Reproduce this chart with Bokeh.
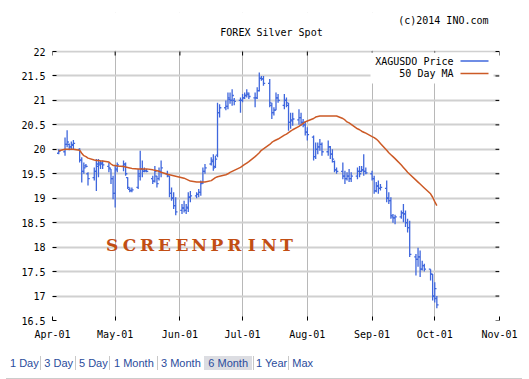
import pandas as pd
from datetime import datetime
from bokeh.plotting import figure
from bokeh.layouts import column
from bokeh.models import (Range1d, FixedTicker, DatetimeTickFormatter, NumeralTickFormatter,
                          Label, BoxAnnotation, ColumnDataSource, Div)
from bokeh.embed import file_html
from bokeh.resources import INLINE

# ---------------- data ----------------
dates = pd.bdate_range("2014-04-04", "2014-10-02")

open_ = [19.92,
         19.95, 20.10, 20.10, 20.05, 20.08,
         20.00, 19.78, 19.55, 19.66, 19.50,
         19.42, 19.55, 19.65, 19.68, 19.72,
         19.65, 19.60, 19.40, 19.10, 19.58,
         19.65, 19.68, 19.42, 19.18, 19.16,
         19.22, 19.45, 19.60, 19.58, 19.56,
         19.40, 19.35, 19.45, 19.40, 19.55,
         19.50, 19.45, 19.10, 19.00, 18.85,
         18.75, 18.80, 18.75, 18.80, 19.02,
         19.05, 19.08, 19.12, 19.32, 19.55,
         19.70, 19.75, 19.65, 19.88, 20.75,
         20.85, 20.88, 21.02, 21.00, 21.00,
         21.00, 21.00, 21.05, 21.10, 21.12,
         21.05, 21.05, 21.20, 21.45, 21.44,
         21.35, 20.90, 20.75, 20.80, 21.05,
         20.90, 21.00, 20.90, 20.55, 20.58,
         20.60, 20.65, 20.55, 20.50, 20.35,
         20.25, 19.85, 20.00, 20.05, 20.10,
         19.95, 20.05, 19.90, 19.75, 19.58,
         19.55, 19.45, 19.40, 19.45, 19.40,
         19.45, 19.55, 19.55, 19.58, 19.55,
         19.50, 19.40, 19.15, 19.25, 19.20,
         19.20, 19.00, 18.95, 18.62, 18.60,
         18.62, 18.70, 18.68, 18.50, 18.40,
         17.80, 17.75, 17.80, 17.55, 17.62,
         17.55, 17.45, 17.00, 16.95]

high = [20.00,
        20.24, 20.39, 20.12, 20.16, 20.19,
        20.02, 19.84, 19.73, 19.70, 19.53,
        19.63, 19.80, 19.80, 19.77, 19.77,
        19.73, 19.60, 19.46, 19.67, 19.73,
        19.77, 19.73, 19.43, 19.22, 19.22,
        19.60, 19.97, 19.77, 19.63, 19.60,
        19.46, 19.66, 19.46, 19.63, 19.77,
        19.56, 19.46, 19.22, 19.12, 19.02,
        18.88, 18.95, 18.88, 19.12, 19.15,
        19.12, 19.19, 19.36, 19.63, 19.70,
        19.84, 19.90, 19.87, 20.95, 20.92,
        21.00, 21.16, 21.16, 21.23, 21.05,
        21.06, 21.13, 21.16, 21.23, 21.16,
        21.16, 21.27, 21.57, 21.50, 21.50,
        21.44, 20.95, 20.86, 21.16, 21.13,
        21.13, 21.06, 20.95, 20.75, 20.75,
        20.82, 20.75, 20.62, 20.58, 20.45,
        20.28, 20.14, 20.14, 20.21, 20.14,
        20.18, 20.07, 20.00, 19.77, 19.63,
        19.73, 19.56, 19.53, 19.60, 19.53,
        19.63, 19.66, 19.66, 19.90, 19.63,
        19.56, 19.46, 19.33, 19.36, 19.29,
        19.36, 19.12, 19.02, 18.68, 18.66,
        18.75, 18.88, 18.75, 18.58, 18.54,
        17.86, 17.99, 17.93, 17.72, 17.66,
        17.55, 17.45, 17.28, 17.00]

low = [19.90,
       19.87, 20.04, 19.98, 20.00, 20.00,
       19.73, 19.32, 19.50, 19.63, 19.26,
       19.36, 19.15, 19.43, 19.60, 19.60,
       19.53, 19.29, 18.98, 18.81, 19.53,
       19.55, 19.46, 19.19, 19.12, 19.12,
       19.19, 19.36, 19.43, 19.53, 19.53,
       19.29, 19.32, 19.22, 19.36, 19.43,
       19.43, 19.02, 18.95, 18.78, 18.65,
       18.68, 18.71, 18.68, 18.72, 18.92,
       19.00, 19.02, 19.05, 19.29, 19.50,
       19.67, 19.56, 19.62, 19.84, 20.65,
       20.80, 20.82, 20.93, 20.89, 20.90,
       20.75, 20.96, 21.03, 21.06, 21.03,
       20.86, 21.03, 21.18, 21.40, 21.30,
       20.86, 20.62, 20.69, 20.80, 20.95,
       20.82, 20.86, 20.38, 20.42, 20.48,
       20.50, 20.48, 20.45, 20.28, 20.18,
       19.77, 19.80, 19.90, 19.97, 19.87,
       19.87, 19.80, 19.73, 19.53, 19.50,
       19.39, 19.29, 19.36, 19.33, 19.33,
       19.39, 19.43, 19.53, 19.46, 19.49,
       19.36, 19.09, 19.12, 19.09, 19.16,
       18.92, 18.88, 18.58, 18.50, 18.47,
       18.58, 18.51, 18.41, 18.30, 17.80,
       17.42, 17.60, 17.39, 17.52, 17.50,
       17.32, 16.91, 16.87, 16.75]

close = [19.96,
         20.10, 20.15, 20.05, 20.10, 20.12,
         19.78, 19.55, 19.62, 19.65, 19.40,
         19.55, 19.70, 19.72, 19.70, 19.68,
         19.62, 19.40, 19.10, 19.60, 19.68,
         19.70, 19.50, 19.22, 19.15, 19.17,
         19.50, 19.60, 19.55, 19.56, 19.55,
         19.35, 19.55, 19.30, 19.55, 19.62,
         19.48, 19.10, 19.00, 18.85, 18.72,
         18.80, 18.75, 18.82, 19.02, 19.05,
         19.08, 19.12, 19.30, 19.55, 19.62,
         19.78, 19.62, 19.80, 20.75, 20.85,
         20.88, 21.05, 21.00, 21.10, 20.98,
         21.00, 21.05, 21.10, 21.15, 21.08,
         21.05, 21.20, 21.45, 21.44, 21.35,
         20.95, 20.75, 20.80, 21.05, 21.00,
         21.00, 20.95, 20.55, 20.60, 20.62,
         20.65, 20.55, 20.50, 20.35, 20.30,
         19.85, 20.00, 20.05, 20.10, 19.95,
         20.05, 19.90, 19.80, 19.58, 19.55,
         19.45, 19.40, 19.45, 19.40, 19.45,
         19.55, 19.50, 19.58, 19.55, 19.52,
         19.40, 19.15, 19.25, 19.20, 19.22,
         19.00, 18.95, 18.65, 18.60, 18.62,
         18.70, 18.68, 18.50, 18.40, 17.85,
         17.75, 17.80, 17.55, 17.62, 17.55,
         17.45, 17.00, 17.15, 16.82]

ma50 = [19.97,
        20.00, 20.00, 20.00, 20.00, 20.00,
        19.98, 19.92, 19.87, 19.85, 19.82,
        19.78, 19.77, 19.77, 19.76, 19.76,
        19.74, 19.70, 19.67, 19.67, 19.66,
        19.65, 19.64, 19.63, 19.62, 19.61,
        19.60, 19.60, 19.60, 19.60, 19.60,
        19.58, 19.57, 19.56, 19.55, 19.53,
        19.49, 19.48, 19.47, 19.46, 19.45,
        19.42, 19.41, 19.39, 19.37, 19.35,
        19.33, 19.33, 19.33, 19.33, 19.33,
        19.36, 19.39, 19.42, 19.44, 19.45,
        19.48, 19.50, 19.53, 19.55, 19.57,
        19.63, 19.66, 19.69, 19.72, 19.75,
        19.85, 19.89, 19.93, 19.98, 20.01,
        20.10, 20.14, 20.17, 20.19, 20.21,
        20.29, 20.31, 20.34, 20.37, 20.40,
        20.47, 20.50, 20.53, 20.56, 20.58,
        20.63, 20.66, 20.67, 20.68, 20.68,
        20.68, 20.68, 20.68, 20.68, 20.68,
        20.63, 20.60, 20.56, 20.54, 20.51,
        20.42, 20.40, 20.37, 20.35, 20.33,
        20.26, 20.24, 20.21, 20.17, 20.12,
        19.98, 19.93, 19.89, 19.85, 19.81,
        19.68, 19.63, 19.58, 19.53, 19.49,
        19.37, 19.33, 19.29, 19.25, 19.21,
        19.09, 19.02, 18.93, 18.85]

month_ticks = ["2014-04-01", "2014-05-01", "2014-06-01", "2014-07-01",
               "2014-08-01", "2014-09-01", "2014-10-01", "2014-11-01"]
y_ticks = [16.5, 17, 17.5, 18, 18.5, 19, 19.5, 20, 20.5, 21, 21.5, 22]

series_names = ["XAGUSDO Price", "50 Day MA"]
title_text = "FOREX Silver Spot"
copyright_text = "(c)2014 INO.com"
watermark = "SCREENPRINT"
buttons = ["1 Day", "3 Day", "5 Day", "1 Month", "3 Month", "6 Month", "1 Year", "Max"]

# ---------------- styling / layout ----------------
BLUE = "#3f67dd"
ORANGE = "#cc5a26"
MONO = "DejaVu Sans Mono"

W, H = 529, 345
FL, FW = 52, 447                 # chart area left / width (page px)
CT, CB = 51, 320                 # chart area top / bottom (page px) where y = 22 / 16.5
FT = 12                          # frame top: extended upward so the title texts sit inside it
FH = CB - FT
X0, X1 = datetime(2014, 4, 1), datetime(2014, 11, 1)
Y0, Y1 = 16.5, 22.0
px_per_unit = (CB - CT) / (Y1 - Y0)
Y_TOP = Y1 + (CT - FT) / px_per_unit

tick_ms = [pd.Timestamp(t).value // 10**6 for t in month_ticks]

src = ColumnDataSource(dict(
    x=dates, o=open_, h=high, l=low, c=close, ma=ma50,
    xl=dates - pd.Timedelta(hours=20), xr=dates + pd.Timedelta(hours=20),
))

p = figure(width=W, height=H, output_backend="svg", toolbar_location=None, title=None,
           x_axis_type="datetime", x_range=Range1d(X0, X1), y_range=Range1d(Y0, Y_TOP),
           min_border_left=FL, min_border_right=W - FL - FW,
           min_border_top=FT, min_border_bottom=H - FT - FH,
           background_fill_color="white", border_fill_color="white")
p.outline_line_color = None

xt = FixedTicker(ticks=tick_ms)
yt = FixedTicker(ticks=y_ticks)
fmt = DatetimeTickFormatter(days="%b-%d", months="%b-%d", years="%b-%d")

for ax in [p.xaxis[0], p.yaxis[0]]:
    ax.axis_line_color = None
    ax.major_tick_in = 4
    ax.major_tick_out = 0
    ax.major_tick_line_color = "black"
    ax.minor_tick_line_color = None
    ax.major_label_text_font = MONO
    ax.major_label_text_font_size = "10px"
    ax.major_label_text_color = "black"
p.xaxis[0].ticker = xt
p.xaxis[0].formatter = fmt
p.xaxis[0].major_label_standoff = 8
p.yaxis[0].ticker = yt
p.yaxis[0].formatter = NumeralTickFormatter(format="0.[0]")
p.yaxis[0].major_label_standoff = 7

p.xgrid.ticker = xt
p.ygrid.ticker = yt
p.xgrid.grid_line_color = "#b8b8b8"
p.xgrid.grid_line_width = 1
p.ygrid.grid_line_color = "#d0d0d0"
p.ygrid.grid_line_width = 2

# mirrored inside ticks on the top (y = 22) and right edges (4 px long)
days_total = (X1 - X0).days
dx_tick = pd.Timedelta(days=4 * days_total / FW)
dy_tick = 4 / px_per_unit
p.segment(x0=pd.to_datetime(month_ticks), y0=[Y1] * len(month_ticks),
          x1=pd.to_datetime(month_ticks), y1=[Y1 - dy_tick] * len(month_ticks),
          line_color="black", line_width=1)
p.segment(x0=[X1] * len(y_ticks), y0=y_ticks, x1=[X1 - dx_tick] * len(y_ticks), y1=y_ticks,
          line_color="black", line_width=1)

# price bars
p.segment(x0="x", y0="l", x1="x", y1="h", source=src, line_color=BLUE, line_width=1.3)
p.segment(x0="xl", y0="o", x1="x", y1="o", source=src, line_color=BLUE, line_width=1.3)
p.segment(x0="x", y0="c", x1="xr", y1="c", source=src, line_color=BLUE, line_width=1.3)
# moving average
p.line(x="x", y="ma", source=src, line_color=ORANGE, line_width=1.5)


# ---------- decorations (screen units relative to the frame's bottom-left) ----------
def fx(px):
    return px - FL


def fy(py):
    return FT + FH - py


def sbox(l, r, t, b, color):
    return BoxAnnotation(left=fx(l), right=fx(r), bottom=fy(b), top=fy(t),
                         left_units="screen", right_units="screen",
                         bottom_units="screen", top_units="screen",
                         fill_color=color, fill_alpha=1, line_color=None)


# blank band above the chart area (hides grid lines there)
p.add_layout(sbox(FL - 3, FL + FW + 3, 0, CT - 1, "white"))

# title texts
p.add_layout(Label(x=fx(271), y=fy(31.5), x_units="screen", y_units="screen",
                   text=title_text, text_align="center", text_baseline="middle",
                   text_font=MONO, text_font_size="10px", text_color="black"))
p.add_layout(Label(x=fx(488), y=fy(19.5), x_units="screen", y_units="screen",
                   text=copyright_text, text_align="right", text_baseline="middle",
                   text_font=MONO, text_font_size="10px", text_color="black"))

# legend
p.add_layout(sbox(370, 493, 52, 83, "white"))
for i, (name, col) in enumerate(zip(series_names, [BLUE, ORANGE])):
    yy = 60.5 + i * 12.5
    p.add_layout(Label(x=fx(453), y=fy(yy), x_units="screen", y_units="screen",
                       text=name, text_align="right", text_baseline="middle",
                       text_font=MONO, text_font_size="10px", text_color="black"))
    p.add_layout(sbox(460, 488, yy - 0.7, yy + 0.7, col))

# watermark
for i, ch in enumerate(watermark):
    p.add_layout(Label(x=fx(111.7 + i * 17.43), y=fy(244.5), x_units="screen", y_units="screen",
                       text=ch, text_align="center", text_baseline="middle",
                       text_font="DejaVu Serif", text_font_style="bold",
                       text_font_size="17px", text_color="#c24e14"))

# ---------- range buttons row (HTML below the chart) ----------
btn_x = [10, 44.3, 79, 114, 161, 208.3, 256, 292.3]
sep_x = [40, 74.7, 109, 157, 252.5, 288]
parts = ['<div style="position:relative;width:%dpx;height:34px;'
         'font-family:\'Liberation Sans\',Arial,sans-serif;font-size:11px;color:#2a4c9c;">' % W]
parts.append('<div style="position:absolute;left:204px;top:11px;width:48px;height:14px;'
             'background:#dcdde2;"></div>')
for sx in sep_x:
    parts.append('<div style="position:absolute;left:%.1fpx;top:11px;width:1px;height:14px;'
                 'background:#c8c8c8;"></div>' % sx)
for bx, txt in zip(btn_x, buttons):
    parts.append('<span style="position:absolute;left:%.1fpx;top:11px;line-height:14px;'
                 'white-space:nowrap;">%s</span>' % (bx, txt))
parts.append('<div style="position:absolute;left:6px;top:33px;width:516px;height:1px;'
             'background:#cccccc;"></div>')
parts.append('</div>')
buttons_div = Div(text="".join(parts), width=W, height=34, margin=(0, 0, 0, 0))

layout = column(p, buttons_div, spacing=0)
open("out.html", "w").write(file_html(layout, INLINE))
